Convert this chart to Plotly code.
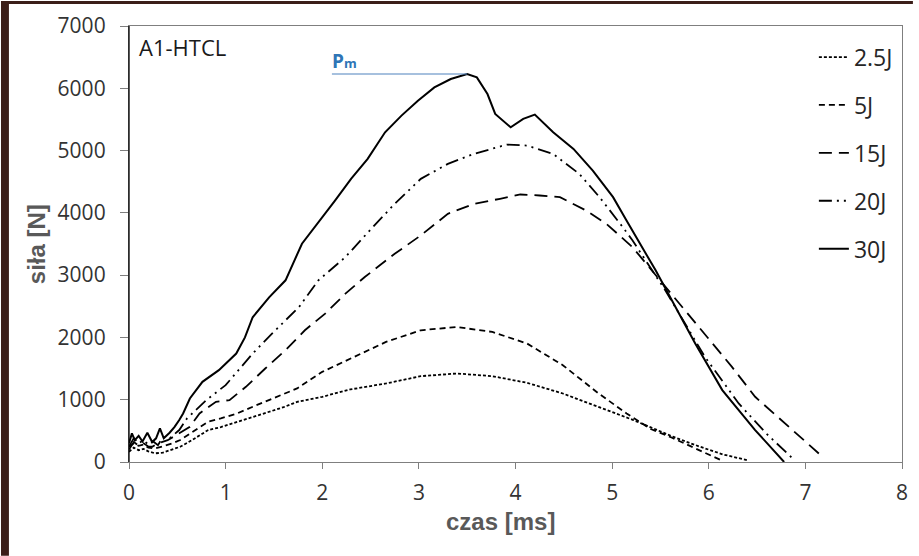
import plotly.graph_objects as go
import numpy as np

# ---- data ----
t_25 = [0, 0.05, 0.1, 0.15, 0.2, 0.27, 0.35, 0.45, 0.53, 0.65, 0.82, 0.95, 1.12, 1.3, 1.45, 1.6, 1.74, 2.0,
        2.29, 2.66, 3.02, 3.39, 3.76, 4.12, 4.49, 4.86, 5.22, 5.4, 5.63, 5.9, 6.15, 6.41]
f_25 = [165, 230, 190, 210, 170, 139, 150, 200, 245, 350, 513, 560, 646, 730, 806, 880, 966, 1047,
        1165, 1261, 1378, 1421, 1378, 1271, 1100, 886, 673, 556, 406, 250, 120, 25]

t_5 = [0, 0.05, 0.1, 0.15, 0.2, 0.27, 0.35, 0.45, 0.53, 0.65, 0.82, 0.95, 1.12, 1.3, 1.45, 1.74, 2.0, 2.29,
       2.66, 3.02, 3.39, 3.76, 4.12, 4.49, 4.86, 5.15, 5.4, 5.62, 5.9, 6.14]
f_5 = [245, 300, 260, 280, 230, 219, 250, 300, 353, 480, 646, 700, 780, 900, 994, 1181, 1447, 1662,
       1928, 2115, 2168, 2088, 1902, 1554, 1100, 780, 530, 390, 190, 20]

t_15 = [0, 0.05, 0.1, 0.15, 0.2, 0.24, 0.3, 0.4, 0.52, 0.63, 0.73, 0.9, 1.04, 1.21, 1.41, 1.62, 1.82, 2.03,
        2.24, 2.44, 2.75, 3.02, 3.3, 3.57, 3.84, 4.05, 4.25, 4.46, 4.73, 4.94, 5.21, 5.55, 5.9, 6.24, 6.48,
        6.8, 7.18]
f_15 = [200, 320, 260, 300, 250, 245, 300, 350, 460, 566, 780, 966, 994, 1207, 1501, 1795, 2115, 2383,
        2703, 2970, 3343, 3638, 3985, 4145, 4226, 4295, 4279, 4252, 4038, 3825, 3451, 2810, 2168, 1527, 1047,
        600, 80]

t_20 = [0, 0.05, 0.1, 0.15, 0.2, 0.25, 0.3, 0.35, 0.42, 0.52, 0.6, 0.8, 1.0, 1.28, 1.48, 1.76, 1.96, 2.24,
        2.54, 2.75, 3.02, 3.3, 3.57, 3.91, 4.12, 4.39, 4.66, 4.87, 5.11, 5.21, 5.55, 5.96, 6.31, 6.6, 6.88]
f_20 = [250, 380, 300, 350, 280, 330, 270, 400, 380, 513, 700, 994, 1234, 1741, 2061, 2489, 2917, 3290,
        3800, 4145, 4546, 4787, 4947, 5096, 5080, 4947, 4626, 4252, 3771, 3560, 2756, 1688, 940, 450, 40]

t_30 = [0, 0.03, 0.06, 0.1, 0.14, 0.19, 0.24, 0.28, 0.32, 0.36, 0.42, 0.47, 0.52, 0.56, 0.63, 0.76, 0.93,
        1.11, 1.2, 1.28, 1.45, 1.62, 1.79, 1.96, 2.13, 2.3, 2.47, 2.65, 2.82, 2.99, 3.16, 3.33, 3.5, 3.6,
        3.71, 3.79, 3.95, 4.08, 4.2, 4.39, 4.6, 4.8, 5.01, 5.14, 5.45, 5.86, 6.14, 6.48, 6.78]
f_30 = [300, 460, 350, 420, 330, 470, 320, 380, 540, 380, 470, 560, 673, 780, 1020, 1287, 1474,
        1741, 2000, 2324, 2644, 2917, 3504, 3846, 4194, 4550, 4867, 5293, 5561, 5801, 6014, 6149, 6229, 6175,
        5908, 5588, 5374, 5508, 5577, 5293, 5027, 4679, 4252, 3900, 3077, 1902, 1154, 513, 0]

series_names = ["2.5J", "5J", "15J", "20J", "30J"]
x_ticks = [0, 1, 2, 3, 4, 5, 6, 7, 8]
y_ticks = [0, 1000, 2000, 3000, 4000, 5000, 6000, 7000]

series = [(t_25, f_25), (t_5, f_5), (t_15, f_15), (t_20, f_20), (t_30, f_30)]
dashes = ["3px,2px", "6px,4px", "13px,7px", "13px,5px,2px,5px,2px,5px", "solid"]
widths = [1.8, 1.8, 1.8, 1.8, 2.0]

FONT = "Open Sans"
TITLE_FONT = "Liberation Sans"
fig = go.Figure()
for i, ((t, f), name) in enumerate(zip(series, series_names)):
    fig.add_trace(go.Scatter(
        x=t, y=f, mode="lines", name=name, legendgroup=name,
        line=dict(color="black", width=widths[i], dash=dashes[i], shape="linear"),
    ))

# Pm marker from the 30J peak
ipk = int(np.argmax(f_30))
t_pk, f_pk = t_30[ipk], f_30[ipk]

fig.add_shape(type="line", xref="x", yref="y", x0=2.1, x1=t_pk, y0=f_pk, y1=f_pk,
              line=dict(color="#4f81bd", width=1.2))
fig.add_annotation(x=2.08, y=f_pk, xref="x", yref="y", xanchor="left", yanchor="bottom",
                   text="<b>P<span style='font-size:13px'>m</span></b>", showarrow=False,
                   font=dict(family=FONT, size=19, color="#2e75b6"), yshift=-2)

fig.add_annotation(x=0.01, y=0.99, xref="paper", yref="paper", xanchor="left", yanchor="top",
                   text="A1-HTCL", showarrow=False, font=dict(family=FONT, size=22, color="#1a1a1a"))

# axis titles
fig.add_annotation(x=(503 - 129) / 779, y=-(522 - 462) / 437, xref="paper", yref="paper",
                   xanchor="center", yanchor="middle", showarrow=False,
                   text="<b>czas [ms]</b>", font=dict(family=TITLE_FONT, size=24, color="#595959"))
fig.add_annotation(x=-(129 - 36) / 779, y=(462 - 244) / 437, xref="paper", yref="paper",
                   xanchor="center", yanchor="middle", showarrow=False, textangle=-90,
                   text="<b>siła [N]</b>", font=dict(family=TITLE_FONT, size=24, color="#595959"))

# dark frame strips of the original picture
fig.add_shape(type="rect", xref="paper", yref="paper", x0=-129/779, x1=-121/779, y0=-94/437, y1=1+25/437,
              fillcolor="#3b1e18", line=dict(width=0), layer="above")
fig.add_shape(type="rect", xref="paper", yref="paper", x0=-129/779, x1=1+11/779, y0=1+22/437, y1=1+25/437,
              fillcolor="#3b1e18", line=dict(width=0), layer="above")
# black left axis
fig.add_shape(type="line", xref="paper", yref="paper", x0=0, x1=0, y0=0, y1=1,
              line=dict(color="black", width=1.3), layer="above")

fig.update_layout(
    width=919, height=556,
    margin=dict(l=129, r=11, t=25, b=94),
    paper_bgcolor="white", plot_bgcolor="white",
    font=dict(family=FONT, color="#333333"),
    showlegend=True,
    legend=dict(x=0.886, y=0.978, xanchor="left", yanchor="top", bgcolor="rgba(0,0,0,0)",
                font=dict(family=FONT, size=23, color="#262626"),
                traceorder="grouped", tracegroupgap=15),
    xaxis=dict(range=[0, 8], tickvals=x_ticks, ticks="outside", ticklen=6, tickcolor="#7f7f7f",
               showline=True, linecolor="#7f7f7f", linewidth=1.3, mirror=True, showgrid=False, zeroline=False,
               tickfont=dict(family=FONT, size=21, color="#333333"), ticklabelstandoff=6),
    yaxis=dict(range=[0, 7000], tickvals=y_ticks, ticks="outside", ticklen=8, tickcolor="#7f7f7f",
               showline=True, linecolor="#7f7f7f", linewidth=1.3, mirror=True, showgrid=False, zeroline=False,
               tickfont=dict(family=FONT, size=21, color="#333333"), ticklabelstandoff=10),
)

fig.write_html("out.html", config={"displayModeBar": False},
               post_script="document.body.style.margin='0';")
